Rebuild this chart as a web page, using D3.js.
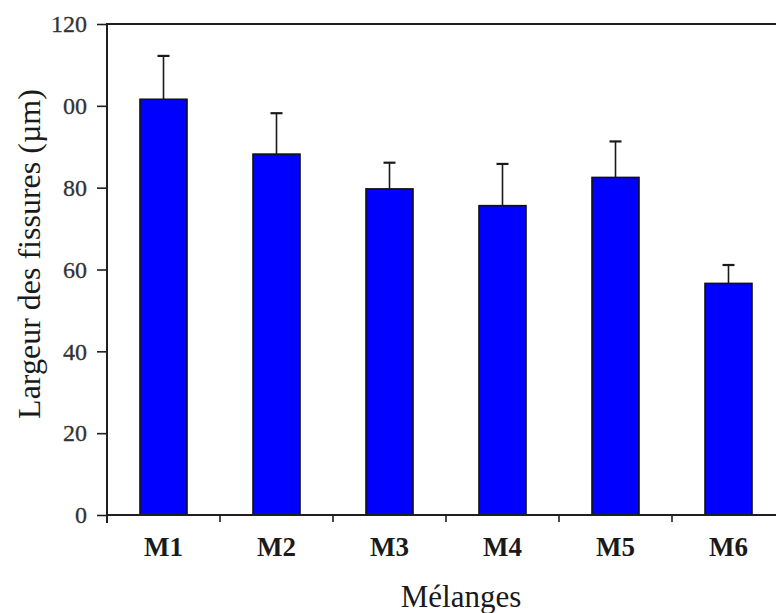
<!DOCTYPE html>
<html>
<head>
<meta charset="utf-8">
<script src="https://cdn.jsdelivr.net/npm/d3@7"></script>
<style>
  html, body { margin: 0; padding: 0; background: #fff; }
  svg { display: block; }
  text { font-family: "Liberation Serif", "Times New Roman", serif; fill: #1a1a1a; }
</style>
</head>
<body>
<svg id="chart" width="776" height="613"></svg>
<script>
// ---- data ----
const categories = ["M1", "M2", "M3", "M4", "M5", "M6"];
const means      = [101.6, 88.2, 79.7, 75.6, 82.5, 56.6];
const upperErr   = [112.2, 98.2, 86.1, 85.8, 91.3, 61.1];
const yTickValues = [0, 20, 40, 60, 80, 100, 120];
const yTickLabels = ["0", "20", "40", "60", "80", "00", "120"];
const xTitle = "Mélanges";
const yTitle = "Largeur des fissures (µm)";

(function () {
// ---- layout ----
const svg = d3.select("#chart");
const plotLeft = 107, plotTop = 24, plotBottom = 515;
const step = 113;
const pad = 0.584;

const x = d3.scaleBand()
  .domain(categories)
  .range([plotLeft, plotLeft + step * categories.length])
  .paddingInner(pad)
  .paddingOuter(pad / 2);

const y = d3.scaleLinear().domain([0, 120]).range([plotBottom, plotTop]);

const stroke = "#1f1f1f";

// top border
svg.append("line")
  .attr("x1", plotLeft).attr("x2", 776)
  .attr("y1", y(120)).attr("y2", y(120))
  .attr("stroke", stroke).attr("stroke-width", 2);

// bars
svg.append("g").selectAll("rect")
  .data(categories)
  .join("rect")
  .attr("x", d => x(d))
  .attr("width", x.bandwidth())
  .attr("y", (d, i) => y(means[i]))
  .attr("height", (d, i) => y(0) - y(means[i]))
  .attr("fill", "#0000ff")
  .attr("stroke", "#111")
  .attr("stroke-width", 1.6);

// error bars
const eg = svg.append("g").attr("stroke", "#1a1a1a").attr("stroke-width", 1.6);
categories.forEach((c, i) => {
  const cx = x(c) + x.bandwidth() / 2;
  eg.append("line").attr("x1", cx).attr("x2", cx)
    .attr("y1", y(means[i])).attr("y2", y(upperErr[i]));
  eg.append("line").attr("x1", cx - 6).attr("x2", cx + 6)
    .attr("y1", y(upperErr[i])).attr("y2", y(upperErr[i]))
    .attr("stroke-width", 2.2);
});

// y axis
const yAxis = d3.axisLeft(y)
  .tickValues(yTickValues)
  .tickFormat((d, i) => yTickLabels[i])
  .tickSize(10)
  .tickPadding(10);
const yg = svg.append("g").attr("transform", `translate(${plotLeft},0)`).call(yAxis);
yg.select(".domain").remove();
yg.selectAll(".tick line").attr("stroke", stroke).attr("stroke-width", 1.6);
yg.selectAll(".tick text")
  .attr("font-size", 24)
  .attr("stroke", "#333")
  .attr("stroke-width", 0.3)
  .style("fill", "#333");
svg.append("line")
  .attr("x1", plotLeft).attr("x2", plotLeft)
  .attr("y1", y(120) - 1).attr("y2", plotBottom + 8)
  .attr("stroke", stroke).attr("stroke-width", 2);

// x axis
svg.append("line")
  .attr("x1", plotLeft).attr("x2", 776)
  .attr("y1", plotBottom).attr("y2", plotBottom)
  .attr("stroke", stroke).attr("stroke-width", 2);
const boundaries = categories.map(c => x(c) - x.step() * x.paddingInner() / 2);
svg.append("g").selectAll("line")
  .data(boundaries.slice(1))
  .join("line")
  .attr("x1", d => d).attr("x2", d => d)
  .attr("y1", plotBottom).attr("y2", plotBottom + 7)
  .attr("stroke", stroke).attr("stroke-width", 1.6);

svg.append("g").selectAll("text")
  .data(categories)
  .join("text")
  .attr("x", d => x(d) + x.bandwidth() / 2)
  .attr("y", 556)
  .attr("text-anchor", "middle")
  .attr("font-weight", "bold")
  .attr("font-size", 27)
  .text(d => d);

// titles
svg.append("text")
  .attr("x", 461).attr("y", 607)
  .attr("text-anchor", "middle")
  .attr("font-size", 31)
  .text(xTitle);

svg.append("text")
  .attr("transform", "translate(40,254) rotate(-90)")
  .attr("text-anchor", "middle")
  .attr("font-size", 32)
  .text(yTitle);
})();
</script>
</body>
</html>
